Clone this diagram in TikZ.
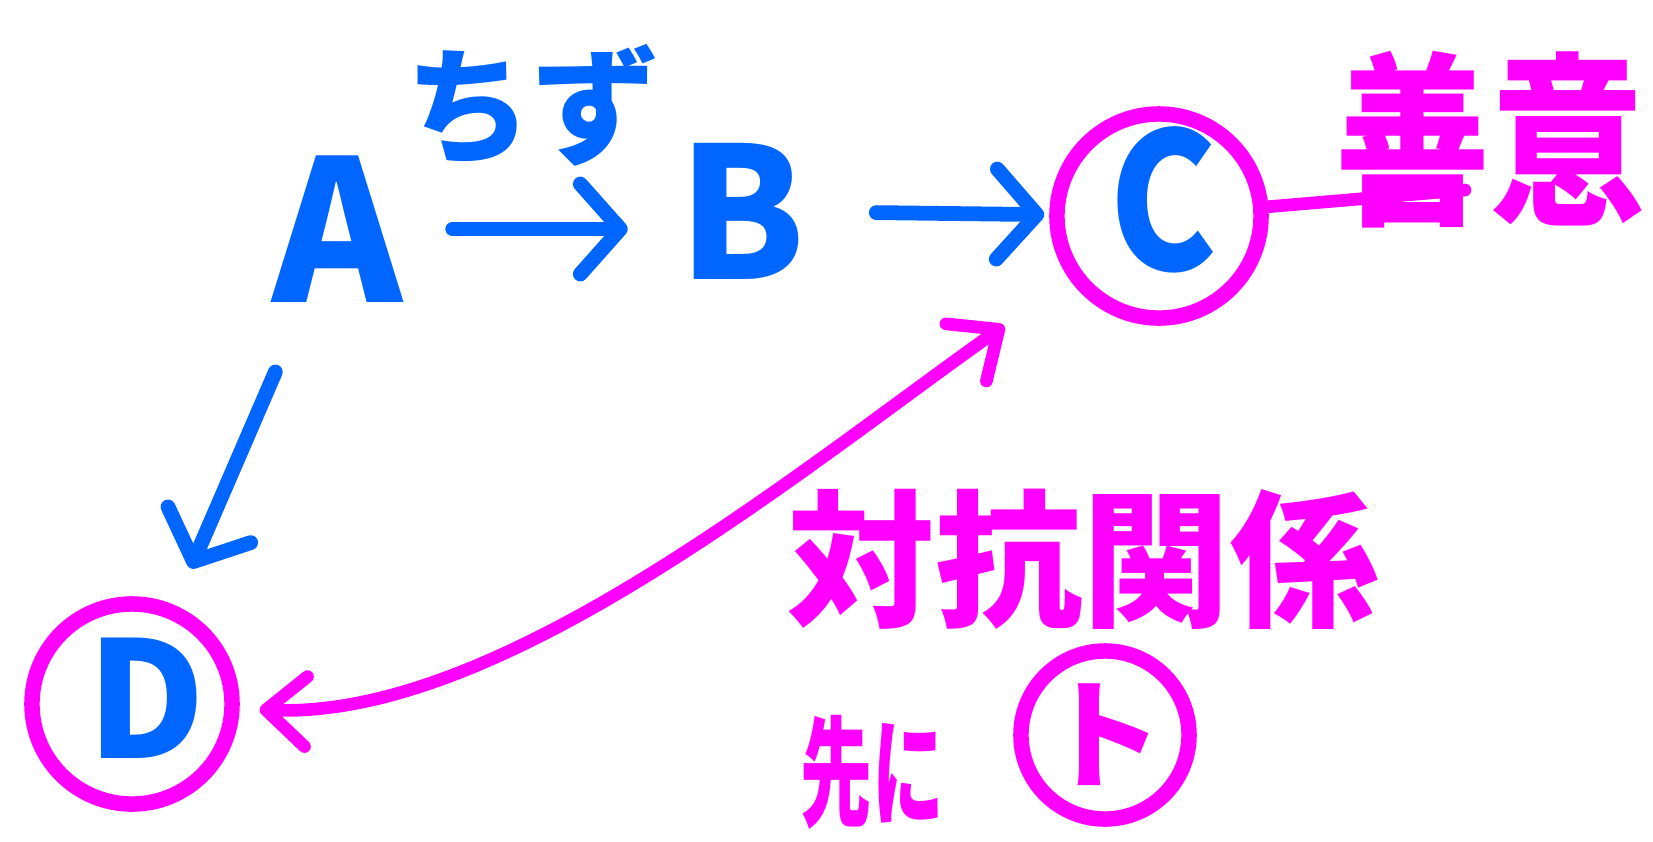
\documentclass[tikz,border=0pt]{standalone}
\usepackage{fontspec}
\newfontfamily\jpfont{Noto Sans CJK JP}
\usetikzlibrary{arrows.meta}
\definecolor{penblue}{HTML}{0066FF}
\definecolor{penpink}{HTML}{FF00FF}
\begin{document}
\begin{tikzpicture}[x=0.01cm, y=-0.01cm,
  bluearrow/.style={penblue, line width=4.2pt, line cap=round,
    -{Straight Barb[round, length=4mm, width=9mm]}},
  pinkline/.style={penpink, line width=3.6pt, line cap=round},
  pinkarrow/.style={pinkline,
    {Straight Barb[round, length=4mm, width=7mm]}-{Straight Barb[round, length=4mm, width=7mm]}},
  ring/.style={circle, draw=penpink, line width=4.4pt, inner sep=0pt},
  letter/.style={penblue, inner sep=0pt, font=\jpfont\bfseries\fontsize{#1}{#1}\selectfont},
  jtext/.style={inner sep=0pt, font=\jpfont\bfseries\fontsize{#1}{#1}\selectfont}]
\useasboundingbox (0,0) rectangle (1653,841);

% Letters
\node[letter=56pt] (A) at (337,229) {A};
\node[letter=52pt] (B) at (742,211) {B};

% Circled nodes
\node[ring, minimum size=2.04cm] (C) at (1159,216) {};
\node[letter=54pt, xscale=0.85] (Cletter) at (1163,200) {C};
\node[ring, minimum size=2.0cm] (D) at (132,704) {};
\node[letter=46pt] (Dletter) at (146,698) {D};
\node[ring, minimum size=1.68cm] (to) at (1105,735) {};
\node[jtext=34pt, penpink] (toletter) at (1103,735) {ト};

% Labels
\node[jtext=36pt, penblue] (chizu) at (532,105) {ちず};
\node[jtext=44pt, penpink, yscale=1.2] (zeni) at (1490,140) {善意};
\node[jtext=42pt, penpink] (taiko) at (1083,559) {対抗関係};
\node[jtext=34pt, penpink, xscale=0.6] (saki) at (872,772) {先に};
\coordinate (zenend) at (1465,190);

% Arrows
\draw[bluearrow, shorten <=0.5cm, shorten >=0.5cm] (A.east) -- (A.east -| B.west);
\draw[bluearrow, shorten <=0.7cm, shorten >=0.05cm] (B) -- (C);
\draw[bluearrow, shorten <=0.75cm, shorten >=0.4cm] (A) -- (D);
\draw[pinkarrow, shorten <=0.2cm, shorten >=0.8cm] (D) .. controls (500,720) and (800,470) .. (C);
\draw[pinkline] (C) -- (zenend);
\end{tikzpicture}
\end{document}
